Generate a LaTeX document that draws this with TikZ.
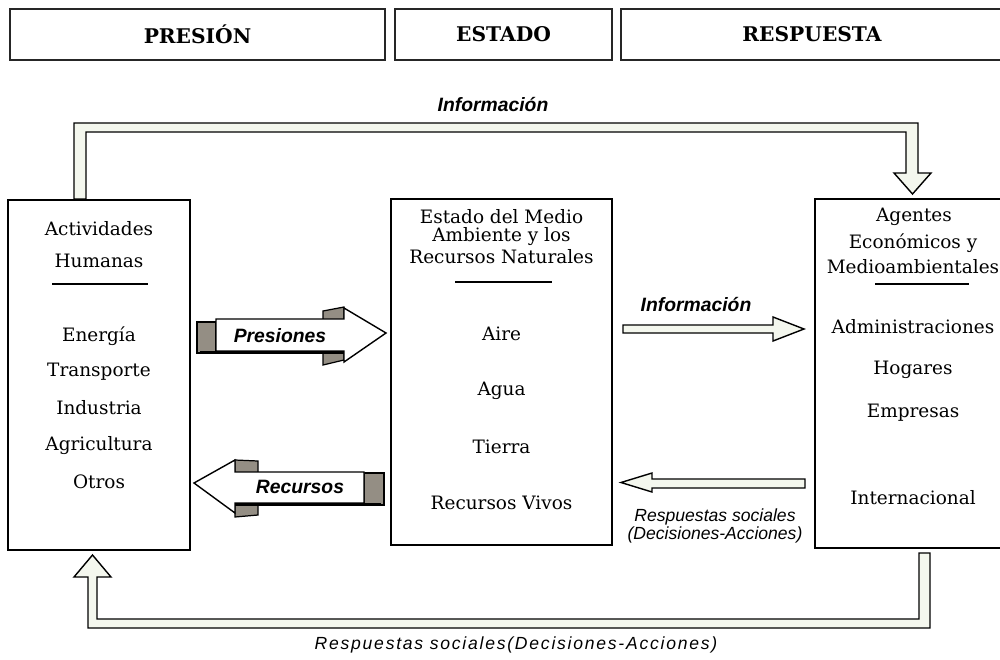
\documentclass[tikz,border=0pt]{standalone}
\usepackage{fontspec}
\setmainfont{DejaVu Serif}
\newfontfamily\etiqfont{Liberation Sans}
\newfontfamily\piefont[LetterSpace=10]{Liberation Sans}
\usetikzlibrary{shapes}
\definecolor{palido}{RGB}{244,247,238}
\definecolor{pliegue}{RGB}{148,142,132}
\tikzset{caja/.style = {
rectangle, draw, line width=1pt, inner sep=0pt
}}
\tikzset{cabecera/.style = {caja, line width=1.3pt, draw=black!85, minimum height=1.02cm, font=\fontsize{11.5}{13}\selectfont\bfseries}}
\tikzset{texto/.style = {inner sep=0pt, font=\fontsize{10.5}{12}\selectfont}}
\tikzset{etiqueta/.style = {inner sep=0pt, font=\fontsize{11}{13}\selectfont\etiqfont\bfseries\itshape}}
\tikzset{nota/.style = {inner sep=0pt, font=\fontsize{10}{12}\selectfont\etiqfont\itshape}}
\tikzset{pie/.style = {nota, font=\fontsize{10}{12}\selectfont\piefont\itshape}}
\tikzset{hueca/.style = {draw, line width=0.8pt, fill=palido, line join=miter}}
\tikzset{pieza/.style = {draw, line width=0.7pt, fill=pliegue}}
\tikzset{cinta/.style = {draw, line width=0.8pt, fill=white}}

\begin{document}
\begin{tikzpicture}[x=0.02cm, y=-0.02cm]
\useasboundingbox (0,0) rectangle (1000,659);
\clip (0,0) rectangle (1000,659);

% cabeceras
\node[cabecera, minimum width=7.5cm] (pres) at (197.5,34.5){PRESIÓN};
\node[cabecera, minimum width=4.34cm] (esta) at (503.5,34.5){ESTADO};
\node[cabecera, minimum width=7.64cm] (resp) at (812,34.5){RESPUESTA};

% flechas huecas
\draw[hueca] (74,199) -- (74,123) -- (918,123) -- (918,173) -- (931,173) -- (912.5,194) -- (894,173) -- (906,173) -- (906,132) -- (86,132) -- (86,199) -- cycle;
\draw[hueca] (930,553) -- (930,628) -- (88,628) -- (88,577) -- (74,577) -- (92.5,555) -- (111,577) -- (97,577) -- (97,619) -- (919,619) -- (919,553) -- cycle;
\draw[hueca] (623,325) -- (773,325) -- (773,317) -- (804,329) -- (773,341) -- (773,333) -- (623,333) -- cycle;
\draw[hueca] (805,479) -- (652,479) -- (652,473) -- (621,482.5) -- (652,492) -- (652,488) -- (805,488) -- cycle;

% cajas
\node[caja, minimum width=3.64cm, minimum height=7cm] (act) at (99,375){};
\node[caja, minimum width=4.42cm, minimum height=6.92cm] (med) at (501.5,372){};
\node[caja, minimum width=3.92cm, minimum height=6.98cm] (age) at (913,373.5){};

\node[texto] (act1) at (99,229){Actividades};
\node[texto] (act2) at (99,261){Humanas};
\draw[line width=0.8pt] (52,284) -- (148,284);
\node[texto] (ene) at (99,336){Energía};
\node[texto] (tra) at (99,372){Transporte};
\node[texto] (ind) at (99,408){Industria};
\node[texto] (agr) at (99,446){Agricultura};
\node[texto] (otr) at (99,482){Otros};

\node[texto] (med1) at (501.5,217){Estado del Medio};
\node[texto] (med2) at (501.5,237){Ambiente y los};
\node[texto] (med3) at (501.5,257){Recursos Naturales};
\draw[line width=0.8pt] (455,282) -- (552,282);
\node[texto] (air) at (501.5,334){Aire};
\node[texto] (agu) at (501.5,391){Agua};
\node[texto] (tie) at (501.5,447){Tierra};
\node[texto] (viv) at (501.5,503){Recursos Vivos};

\node[texto] (age1) at (914,217){Agentes};
\node[texto] (age2) at (913,243){Económicos y};
\node[texto] (age3) at (913,267){Medioambientales};
\draw[line width=0.8pt] (875,284) -- (969,284);
\node[texto] (adm) at (913,327){Administraciones};
\node[texto] (hog) at (913,370){Hogares};
\node[texto] (emp) at (913,413){Empresas};
\node[texto] (int) at (913,498){Internacional};

% flecha Presiones
\draw[pieza] (197,322) rectangle (216,353);
\draw[pieza] (323,311) -- (344,307) -- (344,320) -- (323,320) -- cycle;
\draw[pieza] (323,350) -- (344,350) -- (344,360) -- (323,365) -- cycle;
\draw[cinta] (216,319) -- (344,319) -- (344,308) -- (386,333) -- (344,362) -- (344,351) -- (216,351) -- cycle;
\draw[line width=1.3pt] (200,352.5) -- (344,352.5);

% flecha Recursos
\draw[pieza] (364,473) rectangle (384,505);
\draw[pieza] (235,460) -- (258,461) -- (258,473) -- (235,473) -- cycle;
\draw[pieza] (235,502) -- (258,502) -- (258,515) -- (235,517) -- cycle;
\draw[cinta] (364,472) -- (235,472) -- (235,460) -- (194,483) -- (235,513) -- (235,503) -- (364,503) -- cycle;
\draw[line width=1.3pt] (235,504.5) -- (381,504.5);

% etiquetas
\node[etiqueta] (inf1) at (493,105){Información};
\node[etiqueta] (inf2) at (696,305){Información};
\node[etiqueta] (presi) at (280,336){Presiones};
\node[etiqueta] (recu) at (300,487){Recursos};
\node[nota] (soc1) at (715,517){Respuestas sociales};
\node[nota] (soc2) at (715,535){(Decisiones-Acciones)};
\node[pie] (soc3) at (516,645){Respuestas sociales(Decisiones-Acciones)};

\end{tikzpicture}
\end{document}
